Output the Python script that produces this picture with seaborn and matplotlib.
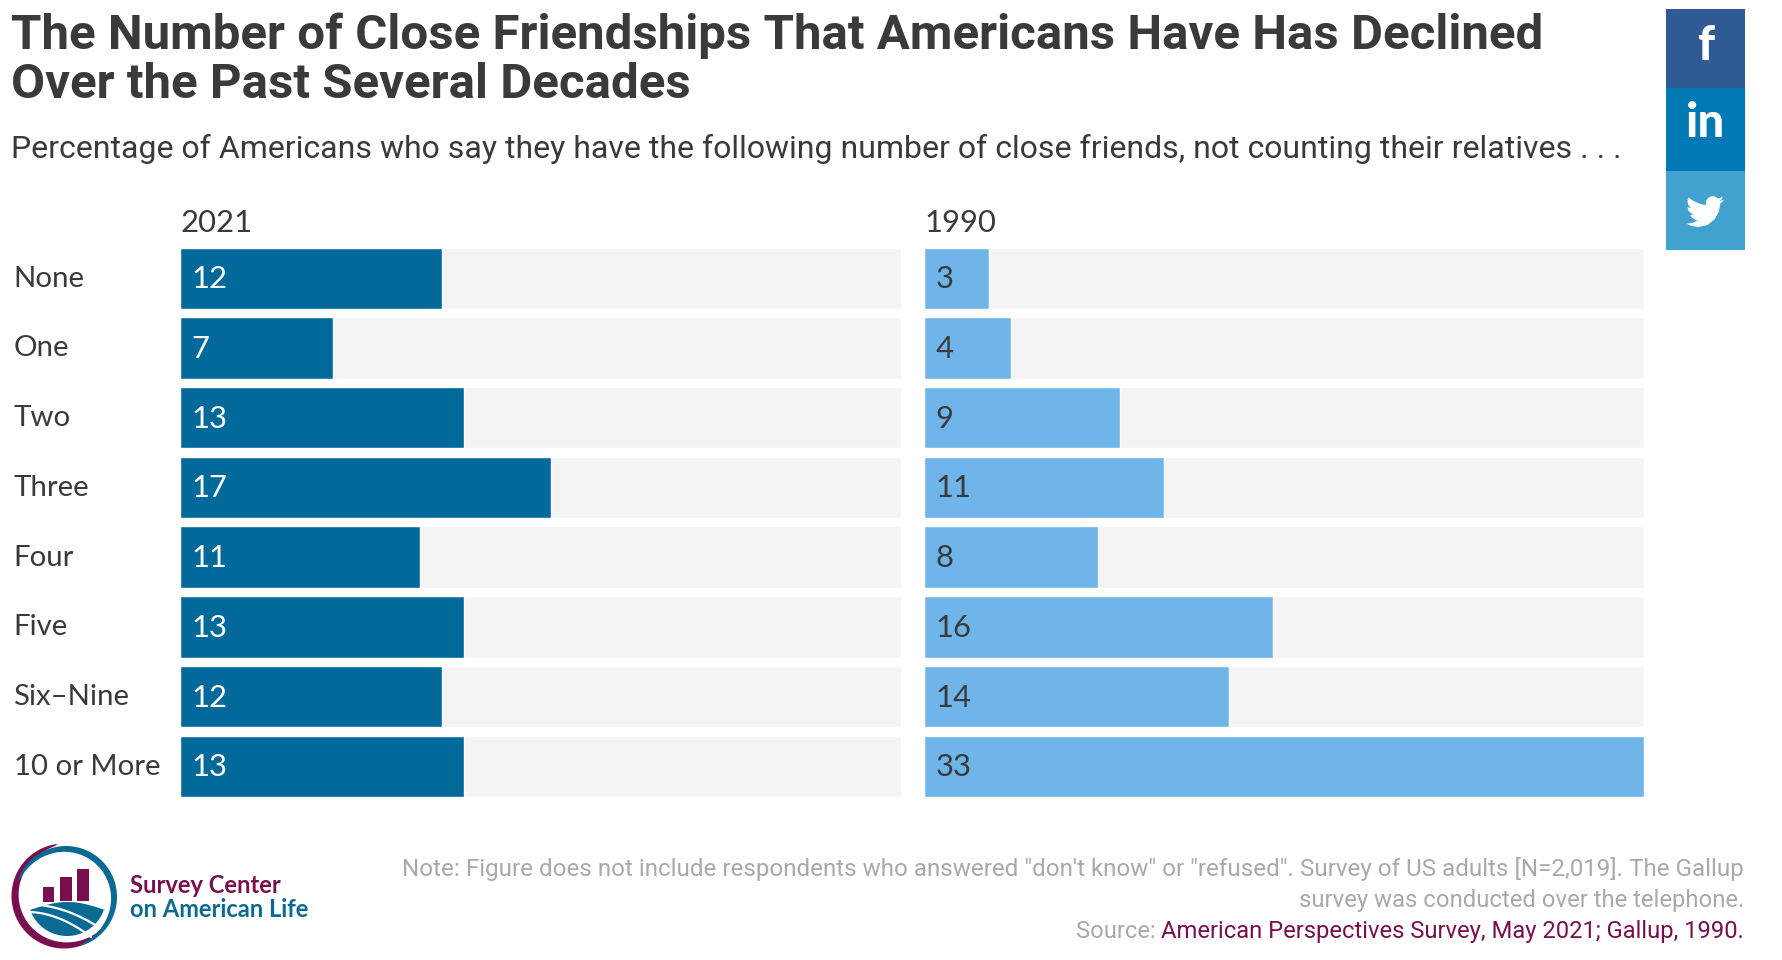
import numpy as np
import pandas as pd
import matplotlib
matplotlib.use("Agg")
import matplotlib.pyplot as plt
from matplotlib.patches import Polygon, Rectangle
from matplotlib.transforms import ScaledTranslation
import seaborn as sns

categories = ["None", "One", "Two", "Three", "Four", "Five", "Six–Nine", "10 or More"]
values_2021 = [12, 7, 13, 17, 11, 13, 12, 13]
values_1990 = [3, 4, 9, 11, 8, 16, 14, 33]
track_max = 33
title_lines = ["The Number of Close Friendships That Americans Have Has Declined",
               "Over the Past Several Decades"]
subtitle = "Percentage of Americans who say they have the following number of close friends, not counting their relatives . . ."
note_lines = ["Note: Figure does not include respondents who answered \"don't know\" or \"refused\". Survey of US adults [N=2,019]. The Gallup",
              "survey was conducted over the telephone."]
source_label = "Source: "
source_text = "American Perspectives Survey, May 2021; Gallup, 1990."

INK = "#3a3a3c"; DARK = "#02699b"; LIGHT = "#6fb5e9"; TRACK = "#f4f4f4"
GREY = "#a9a9a9"; PURPLE = "#7a0f50"; TEAL = "#0b6a94"
HEAD_FONT = ["Roboto", "DejaVu Sans"]

W, H = 1782, 960
sns.set_theme(style="white")
plt.rcParams["font.family"] = ["Lato", "DejaVu Sans"]
fig = plt.figure(figsize=(W / 100, H / 100), dpi=100, facecolor="white")

def axes_px(x0, x1, y0, y1):
    return fig.add_axes([x0 / W, 1 - y1 / H, (x1 - x0) / W, (y1 - y0) / H])

def panel(box, vals, year, bar_color, text_color, show_labels):
    ax = axes_px(*box)
    df = pd.DataFrame({"cat": categories, "val": vals, "track": [track_max] * len(categories)})
    bw = 0.88
    sns.barplot(data=df, y="cat", x="track", color=TRACK, width=bw, saturation=1, ax=ax)
    sns.barplot(data=df, y="cat", x="val", color=bar_color, width=bw, saturation=1, ax=ax)
    ax.set_xlim(0, track_max)
    ax.set_ylim(len(categories) - 1 + bw / 2, -bw / 2)
    ax.set_xlabel(""); ax.set_ylabel("")
    ax.set_xticks([])
    sns.despine(ax=ax, left=True, bottom=True)
    ax.set_facecolor("none")
    if show_labels:
        ax.tick_params(axis="y", length=0, pad=165 * 0.72, labelsize=LABEL_PT, labelcolor=INK)
        shift = ScaledTranslation(-1 / 100, 2 / 100, fig.dpi_scale_trans)
        for t in ax.get_yticklabels():
            t.set_ha("left")
            t.set_transform(t.get_transform() + shift)
    else:
        ax.set_yticks([])
    for i, v in enumerate(vals):
        ax.annotate(str(v), (0, i), xytext=(12 * 0.72, 1), textcoords="offset points",
                    va="center_baseline", ha="left", fontsize=VALUE_PT, color=text_color)
    ax.set_title(year, loc="left", fontsize=VALUE_PT, color=INK, pad=11.5, x=0.001)
    return ax

LABEL_PT = 21.2
VALUE_PT = 22.3
panel((179.5, 901, 247.5, 797), values_2021, "2021", DARK, "#ffffff", True)
panel((923.5, 1644, 247.5, 797), values_1990, "1990", LIGHT, INK, False)

# page-level overlay in pixel coordinates
ov = fig.add_axes([0, 0, 1, 1], facecolor="none", zorder=5)
ov.set_xlim(0, W); ov.set_ylim(H, 0); ov.axis("off")

rend = fig.canvas.get_renderer()
def width(t):
    return t.get_window_extent(rend).width
def fit(t, target):
    for _ in range(4):
        t.set_fontsize(t.get_fontsize() * target / width(t))
    return t.get_fontsize()

t1 = ov.text(11, 49, title_lines[0], fontsize=34, fontweight="bold", color=INK, family=HEAD_FONT)
size = fit(t1, 1537)
ov.text(11, 98.5, title_lines[1], fontsize=size, fontweight="bold", color=INK, family=HEAD_FONT)
st = ov.text(11, 158, subtitle, fontsize=24, color=INK, family=HEAD_FONT)
fit(st, 1610)

n1 = ov.text(1744, 876, note_lines[0], fontsize=18, color=GREY, ha="right", family=HEAD_FONT)
nsize = fit(n1, 1340)
n2 = ov.text(1744, 907, note_lines[1], fontsize=nsize, color=GREY, ha="right", family=HEAD_FONT)
fit(n2, 445)
s2 = ov.text(1744, 938, source_text, fontsize=nsize, color=PURPLE, ha="right", family=HEAD_FONT)
fit(s2, 584)
ov.text(1744 - width(s2), 938, source_label, fontsize=s2.get_fontsize(), color=GREY, ha="right", family=HEAD_FONT)

# social buttons
for y0, y1, c in [(9, 88, "#2f5a93"), (88, 171, "#0179b4"), (171, 250, "#41a1cf")]:
    ov.add_patch(Rectangle((1666, y0), 79, y1 - y0, color=c, lw=0))
ov.text(1705.5, 60, "f", fontsize=34, fontweight="black", color="white", ha="center")
ov.text(1705.5, 137, "in", fontsize=34, fontweight="black", color="white", ha="center")
bird = np.array([(24,4.59),(22.6,5.1),(21.13,5.35),(22.5,4.4),(23.29,2.62),(21.8,3.35),(20.16,3.81),
                 (18.5,2.6),(16.6,2.25),(14.3,3.1),(12.9,4.9),(12.65,6.5),(12.78,7.9),(9.9,7.5),
                 (7.2,6.55),(4.2,5.1),(1.64,3.16),(1.1,4.3),(0.97,5.64),(1.5,7.9),(3.16,9.73),
                 (1.9,9.6),(0.93,9.12),(0.93,9.18),(1.5,11.4),(3.0,12.9),(4.88,14.0),(3.4,14.15),
                 (2.67,14.09),(3.9,16.0),(5.7,17.1),(7.28,17.5),(4.7,19.0),(1.18,19.6),(0.02,19.54),
                 (3.7,21.2),(7.56,21.75),(13.5,20.6),(18.1,16.8),(20.7,12.2),(21.56,7.77),(21.55,7.14),(23,5.9)])
bird = np.c_[1686 + bird[:, 0] / 24 * 38, 196 + (bird[:, 1] - 2.25) / 19.5 * 31]
ov.add_patch(Polygon(bird, closed=True, color="white", lw=0))

# logo
def crescent(cx, cy, r, a0, a1, thick, color):
    a = np.radians(np.linspace(a0, a1, 120))
    th = thick * np.sin(np.linspace(0, np.pi, 120)) ** 0.5
    outer = np.c_[cx + r * np.cos(a), cy - r * np.sin(a)]
    inner = np.c_[cx + (r - th) * np.cos(a), cy - (r - th) * np.sin(a)]
    ov.add_patch(Polygon(np.r_[outer, inner[::-1]], closed=True, color=color, lw=0))

crescent(64, 896, 52.5, 97, 325, 7.5, PURPLE)
crescent(66, 897, 51, -75, 161, 6.5, TEAL)
for x0, x1, y0, y1 in [(43, 54, 887, 902), (60, 72, 877, 901), (77, 89, 869, 901)]:
    ov.add_patch(Rectangle((x0, y0), x1 - x0, y1 - y0, color=PURPLE, lw=0))
t = np.linspace(0, 1, 60)
top = np.c_[30 + t * 75, 910 - 8 * np.sin(np.pi * t)]
a = np.radians(np.linspace(-18, -162, 60))
bot = np.c_[67 + 39 * np.cos(a), 897 + 39 * -np.sin(a)]
ov.add_patch(Polygon(np.r_[bot, top], closed=True, color=TEAL, lw=0))
for pts in [([31, 58, 91], [912, 918, 937]), ([38, 58, 75, 100], [905, 908, 915, 928])]:
    c = np.polyfit(pts[0], pts[1], 2)
    xs = np.linspace(pts[0][0], pts[0][-1], 40)
    ov.plot(xs, np.polyval(c, xs), color="white", lw=1.6, solid_capstyle="round")

ov.text(130, 893, "Survey Center", fontsize=17.1, fontweight="bold", color=PURPLE)
ov.text(130, 917, "on American Life", fontsize=17.1, fontweight="bold", color=TEAL)

fig.savefig("out.png", dpi=100)
